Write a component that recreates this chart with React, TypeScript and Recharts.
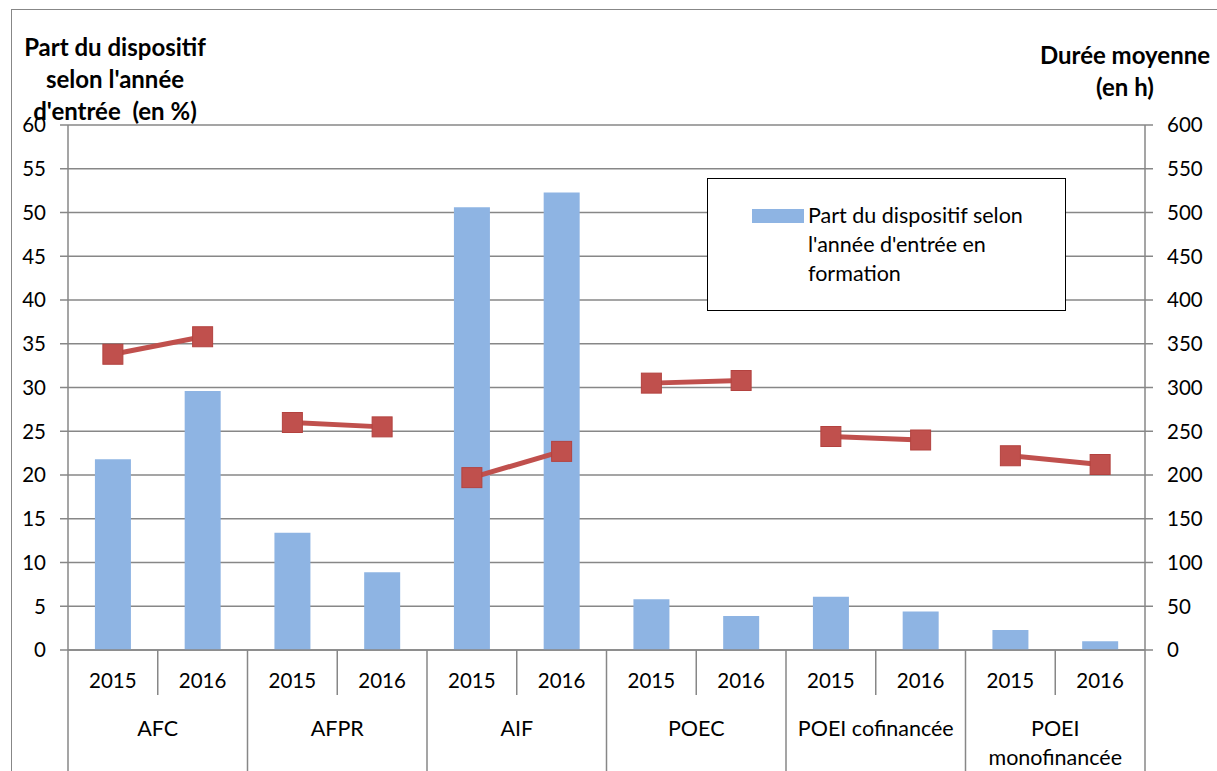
import { ComposedChart, Bar, Line, XAxis, YAxis, CartesianGrid } from 'recharts';

const groups = ['AFC', 'AFPR', 'AIF', 'POEC', 'POEI cofinancée', 'POEI monofinancée'];
const years = ['2015', '2016'];
// part du dispositif (en %), 2015 then 2016 for each group
const partValues = [21.8, 29.6, 13.4, 8.9, 50.6, 52.3, 5.8, 3.9, 6.1, 4.4, 2.3, 1.0];
// durée moyenne (en h)
const dureeValues = [338, 358, 260, 255, 197, 227, 305, 308, 244, 240, 222, 212];
const leftTicks = [0, 5, 10, 15, 20, 25, 30, 35, 40, 45, 50, 55, 60];
const rightTicks = [0, 50, 100, 150, 200, 250, 300, 350, 400, 450, 500, 550, 600];
const barLegend = "Part du dispositif selon l'année d'entrée en formation";

const BAR_COLOR = '#8EB4E3';
const LINE_COLOR = '#C0504D';
const GRID_COLOR = '#878787';
const FONT = 'Lato, "Open Sans", sans-serif';

const W = 1217;
const H = 771;
const PLOT_LEFT = 68;
const PLOT_RIGHT = 1145;
const PLOT_BOTTOM = 650;
const CAT_W = (PLOT_RIGHT - PLOT_LEFT) / partValues.length;

const data = partValues.map((part, i) => {
  const row: Record<string, any> = {
    key: `${groups[Math.floor(i / 2)]}-${years[i % 2]}`,
    year: years[i % 2],
    part,
  };
  row[`l${Math.floor(i / 2)}`] = dureeValues[i];
  return row;
});

function SquareDot(props: any) {
  const { cx, cy } = props;
  if (cx == null || cy == null) return null;
  return <rect x={cx - 10} y={cy - 10} width={20} height={20} fill={LINE_COLOR} stroke="#b3423f" strokeWidth={1} />;
}

function CategoryTick(props: any) {
  const { x, index } = props;
  const year = years[index % 2];
  const isGroupStart = index % 2 === 0;
  const left = x - CAT_W / 2;
  const groupName = groups[Math.floor(index / 2)];
  const lines = groupName === 'POEI monofinancée' ? ['POEI', 'monofinancée'] : [groupName];
  return (
    <g>
      <line x1={left} x2={left} y1={PLOT_BOTTOM} y2={isGroupStart ? H : 695} stroke={GRID_COLOR} strokeWidth={1.5} />
      {index === partValues.length - 1 && (
        <line x1={x + CAT_W / 2} x2={x + CAT_W / 2} y1={PLOT_BOTTOM} y2={H} stroke={GRID_COLOR} strokeWidth={1.5} />
      )}
      <text x={x} y={681} dy="0.35em" textAnchor="middle" fontSize={20.5} fill="#000" fontFamily={FONT}>
        {year}
      </text>
      {isGroupStart &&
        lines.map((t, k) => (
          <text key={k} x={x + CAT_W / 2} y={728 + k * 29} dy="0.35em" textAnchor="middle" fontSize={21.5} fill="#000" fontFamily={FONT}>
            {t}
          </text>
        ))}
    </g>
  );
}

export default function App() {
  return (
    <div style={{ position: 'absolute', left: 0, top: 0, width: W, height: H, overflow: 'hidden', background: '#fff', fontFamily: FONT }}>
      <div style={{ position: 'absolute', left: 11, top: 9, width: W, height: H, border: `1.5px solid ${GRID_COLOR}` }} />
      <ComposedChart width={W} height={H} data={data} margin={{ top: 125, right: 0, bottom: 0, left: 0 }} barCategoryGap="30%">
        <CartesianGrid vertical={false} stroke={GRID_COLOR} strokeWidth={1.5} yAxisId="left" />
        <XAxis
          dataKey="key"
          height={121}
          interval={0}
          tickLine={false}
          axisLine={{ stroke: GRID_COLOR, strokeWidth: 1.5 }}
          tick={<CategoryTick />}
        />
        <YAxis
          yAxisId="left"
          width={68}
          domain={[0, 60]}
          ticks={leftTicks}
          interval={0}
          tickSize={8}
          tickMargin={14}
          axisLine={{ stroke: GRID_COLOR, strokeWidth: 1.5 }}
          tickLine={{ stroke: GRID_COLOR, strokeWidth: 1.5 }}
          tick={{ fill: '#000', fontSize: 20.5, fontFamily: FONT }}
        />
        <YAxis
          yAxisId="right"
          orientation="right"
          width={72}
          domain={[0, 600]}
          ticks={rightTicks}
          interval={0}
          tickSize={8}
          tickMargin={14}
          axisLine={{ stroke: GRID_COLOR, strokeWidth: 1.5 }}
          tickLine={{ stroke: GRID_COLOR, strokeWidth: 1.5 }}
          tick={{ fill: '#000', fontSize: 20.5, fontFamily: FONT }}
        />
        <Bar yAxisId="left" dataKey="part" name={barLegend} fill={BAR_COLOR} isAnimationActive={false} />
        {groups.map((g, gi) => (
          <Line
            key={g}
            yAxisId="right"
            dataKey={`l${gi}`}
            stroke={LINE_COLOR}
            strokeWidth={5}
            dot={<SquareDot />}
            activeDot={false}
            legendType="none"
            connectNulls={false}
            isAnimationActive={false}
          />
        ))}
      </ComposedChart>
      <div style={{ position: 'absolute', left: 707, top: 178, width: 357, height: 131, border: '1.5px solid #000', background: '#fff' }}>
        <div style={{ position: 'absolute', left: 44, top: 30, width: 52, height: 14, background: BAR_COLOR }} />
        <div style={{ position: 'absolute', left: 100, top: 22, width: 245, fontSize: 21.5, lineHeight: '29px', color: '#000' }}>
          {barLegend}
        </div>
      </div>
      <div style={{ position: 'absolute', left: 15, top: 31, width: 200, textAlign: 'center', fontWeight: 700, fontSize: 24, lineHeight: '32px', color: '#000' }}>
        <div>Part du dispositif</div>
        <div>selon l'année</div>
        <div style={{ whiteSpace: 'pre' }}>d'entrée  (en %)</div>
      </div>
      <div style={{ position: 'absolute', left: 1025, top: 39, width: 200, textAlign: 'center', fontWeight: 700, fontSize: 24, lineHeight: '32px', color: '#000' }}>
        <div>Durée moyenne</div>
        <div>(en h)</div>
      </div>
    </div>
  );
}
